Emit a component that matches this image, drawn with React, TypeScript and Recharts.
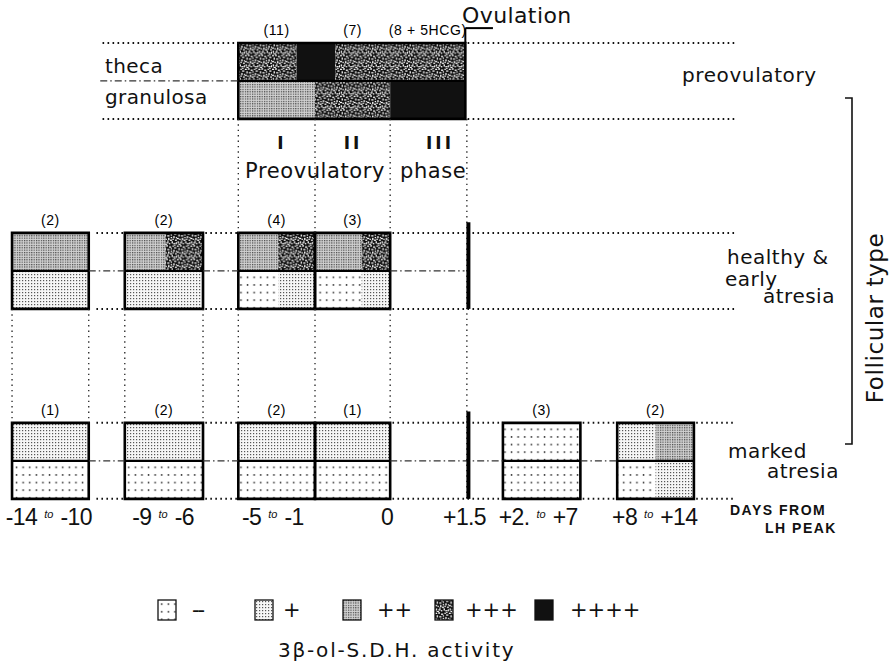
import React from 'react';
import { ComposedChart, XAxis, YAxis, ReferenceArea, ReferenceLine } from 'recharts';

// activity scale of 3β-ol-S.D.H., index = level
const LEVELS = ['--', '+', '++', '+++', '++++'];

// follicle columns on the x axis (column units)
const columnFrom = [0, 1.47, 2.95, 3.95, 4.93, 6.4, 7.89];
const columnTo = [1, 2.49, 3.95, 4.93, 5.91, 7.41, 8.89];

// top of each follicular type row: preovulatory, healthy & early atresia, marked atresia
const rowTop = [0, 5, 10];

// a part is [activity level, share of the column width]
type Part = [number, number];
type Entry = { col: number; n: string; theca: Part[]; granulosa: Part[] };

const preovulatory: Entry[] = [
  { col: 2, n: '(11)', theca: [[3, 0.76], [4, 0.24]], granulosa: [[2, 1]] },
  { col: 3, n: '(7)', theca: [[4, 0.27], [3, 0.73]], granulosa: [[3, 1]] },
  { col: 4, n: '(8 + 5HCG)', theca: [[3, 1]], granulosa: [[4, 1]] },
];

const healthy: Entry[] = [
  { col: 0, n: '(2)', theca: [[2, 1]], granulosa: [[1, 1]] },
  { col: 1, n: '(2)', theca: [[2, 0.52], [3, 0.48]], granulosa: [[1, 1]] },
  { col: 2, n: '(4)', theca: [[2, 0.52], [3, 0.48]], granulosa: [[0, 0.52], [1, 0.48]] },
  { col: 3, n: '(3)', theca: [[2, 0.62], [3, 0.38]], granulosa: [[0, 0.62], [1, 0.38]] },
];

const marked: Entry[] = [
  { col: 0, n: '(1)', theca: [[1, 1]], granulosa: [[0, 1]] },
  { col: 1, n: '(2)', theca: [[1, 1]], granulosa: [[0, 1]] },
  { col: 2, n: '(2)', theca: [[1, 1]], granulosa: [[0, 1]] },
  { col: 3, n: '(1)', theca: [[1, 1]], granulosa: [[0, 1]] },
  { col: 5, n: '(3)', theca: [[0, 1]], granulosa: [[0, 1]] },
  { col: 6, n: '(2)', theca: [[1, 0.5], [2, 0.5]], granulosa: [[0, 0.5], [1, 0.5]] },
];

// days from LH peak
const dayTickAt = [0.48, 1.97, 3.4, 4.89, 5.9, 6.86, 8.38];
const dayFrom = ['-14', '-9', '-5', '0', '+1.5', '+2.', '+8'];
const dayTo = ['-10', '-6', '-1', '', '', '+7', '+14'];

const OVULATION = 5.93;
const LINE_END = 9.43;

const FONT = "'DejaVu Sans', Verdana, sans-serif";
const NUMFONT = "'Liberation Sans', Arial, sans-serif";
const NARROW = "'Liberation Sans Narrow', 'Liberation Sans', Arial, sans-serif";

const SPECKS = [
  [0, 1, 2, 1], [4, 0, 1, 2], [7, 2, 2, 1], [11, 1, 1, 1], [13, 3, 2, 1], [2, 4, 1, 2],
  [5, 5, 2, 1], [9, 4, 1, 1], [12, 6, 1, 2], [15, 7, 1, 1], [0, 8, 2, 1], [3, 9, 1, 1],
  [6, 8, 1, 2], [8, 10, 2, 1], [11, 9, 1, 1], [14, 10, 2, 1], [1, 12, 1, 2], [4, 13, 2, 1],
  [7, 14, 1, 1], [10, 12, 1, 2], [12, 14, 2, 1], [15, 13, 1, 2], [2, 15, 2, 1], [9, 7, 1, 1],
  [5, 11, 1, 1], [13, 0, 1, 1],
];

const fillFor = (lvl: number) => (lvl === 4 ? '#111' : `url(#lvl${lvl})`);

const rows: Entry[][] = [preovulatory, healthy, marked];

function gaps(boxes: number[][], start: number, end: number) {
  const out: number[][] = [];
  let cur = start;
  [...boxes].sort((a, b) => a[0] - b[0]).forEach(([a, b]) => {
    if (a > cur + 0.01) out.push([cur, Math.min(a, end)]);
    cur = Math.max(cur, b);
  });
  if (end > cur + 0.01) out.push([cur, end]);
  return out;
}

function DayTick(props: any) {
  const { x, y, payload } = props;
  const i = dayTickAt.findIndex((v) => Math.abs(v - payload.value) < 1e-6);
  if (i < 0) return null;
  return (
    <text x={x} y={y + 17} textAnchor="middle" fontFamily={NUMFONT} fontSize={23} fill="#111" letterSpacing={-0.6}>
      <tspan>{dayFrom[i]}</tspan>
      {dayTo[i] && (
        <>
          <tspan dx={7} dy={-7} fontSize={11} fontStyle="italic" letterSpacing={0}>to</tspan>
          <tspan dx={7} dy={7}>{dayTo[i]}</tspan>
        </>
      )}
    </text>
  );
}

const dotted = { stroke: '#111', strokeWidth: 2, strokeDasharray: '1.6 3.4' };
const vdotted = { stroke: '#222', strokeWidth: 1.3, strokeDasharray: '1.4 4' };
const dashdot = { stroke: '#333', strokeWidth: 1.2, strokeDasharray: '7 3 1.5 3' };

export default function App() {
  const cells: React.ReactNode[] = [];
  const outlines: React.ReactNode[] = [];
  const lines: React.ReactNode[] = [];

  rows.forEach((entries, r) => {
    const top = rowTop[r];
    entries.forEach((e) => {
      const x1 = columnFrom[e.col];
      const w = columnTo[e.col] - x1;
      [e.theca, e.granulosa].forEach((parts, layer) => {
        let acc = x1;
        parts.forEach(([lvl, share], k) => {
          const a = acc;
          acc += share * w;
          cells.push(
            <ReferenceArea key={`c${r}-${e.col}-${layer}-${k}`} x1={a} x2={acc} y1={top + layer} y2={top + layer + 1}
              fill={fillFor(lvl)} fillOpacity={1} stroke="none" ifOverflow="visible" />
          );
        });
      });
      // count of follicles
      cells.push(
        <ReferenceArea key={`n${r}-${e.col}`} x1={x1} x2={columnTo[e.col]} y1={top} y2={top + 1}
          fill="none" stroke="none" ifOverflow="visible"
          label={{ value: e.n, position: 'top', offset: 8, fontSize: 14, fill: '#000', fontFamily: NARROW, letterSpacing: 0.6 }} />
      );
    });

    // boxes: preovulatory is one block, others one box per column
    const boxes = r === 0
      ? [[columnFrom[entries[0].col], columnTo[entries[entries.length - 1].col]]]
      : entries.map((e) => [columnFrom[e.col], columnTo[e.col]]);
    boxes.forEach(([a, b], k) => {
      outlines.push(
        <ReferenceArea key={`o${r}-${k}`} x1={a} x2={b} y1={top} y2={top + 2} fill="none"
          stroke="#000" strokeWidth={2.6} ifOverflow="visible" />,
        <ReferenceLine key={`m${r}-${k}`} segment={[{ x: a, y: top + 1 }, { x: b, y: top + 1 }]}
          stroke="#000" strokeWidth={2.2} ifOverflow="visible" />
      );
    });

    const dotStart = r === 0 ? 1.15 : columnTo[0] + 0.07;
    const dashStart = r === 0 ? 1.15 : columnTo[0];
    const dashEnd = r === 0 ? columnFrom[2] : r === 1 ? OVULATION - 0.03 : columnFrom[6];
    gaps(boxes, dotStart, LINE_END).forEach(([a, b], k) => {
      [top, top + 2].forEach((yy) => {
        lines.push(
          <ReferenceLine key={`d${r}-${k}-${yy}`} segment={[{ x: a + 0.03, y: yy }, { x: b, y: yy }]}
            {...dotted} ifOverflow="visible" />
        );
      });
    });
    gaps(boxes, dashStart, dashEnd).forEach(([a, b], k) => {
      lines.push(
        <ReferenceLine key={`dd${r}-${k}`} segment={[{ x: a, y: top + 1 }, { x: b, y: top + 1 }]}
          {...dashdot} ifOverflow="visible" />
      );
    });
  });

  // vertical guides between rows
  const phaseEdges = [columnFrom[2], columnFrom[3], columnFrom[4]];
  phaseEdges.forEach((x, k) => {
    lines.push(<ReferenceLine key={`vp${k}`} segment={[{ x, y: 2 }, { x, y: 5 }]} {...vdotted} ifOverflow="visible" />);
  });
  const lowEdges = [columnFrom[0], columnTo[0], columnFrom[1], columnTo[1], columnFrom[2], columnFrom[3], columnTo[3]];
  lowEdges.forEach((x, k) => {
    lines.push(<ReferenceLine key={`vl${k}`} segment={[{ x, y: 7 }, { x, y: 10 }]} {...vdotted} ifOverflow="visible" />);
  });
  lines.push(
    <ReferenceLine key="vov" segment={[{ x: OVULATION, y: 2 }, { x: OVULATION, y: 12 }]} {...vdotted} ifOverflow="visible" />
  );

  return (
    <div style={{ position: 'absolute', left: 0, top: 0, width: 896, height: 664, background: '#fff', fontFamily: FONT }}>
      <ComposedChart width={896} height={545} data={[]} margin={{ top: 0, right: 0, bottom: 0, left: 0 }}>
        <defs>
          <pattern id="lvl0" width="6.6" height="7.6" patternUnits="userSpaceOnUse">
            <rect width="6.6" height="7.6" fill="#fff" />
            <rect x="2.6" y="3" width="1.5" height="1.5" fill="#222" />
          </pattern>
          <pattern id="lvl1" width="3" height="3" patternUnits="userSpaceOnUse">
            <rect width="3" height="3" fill="#f6f6f6" />
            <rect x="1" y="1" width="1.2" height="1.2" fill="#555" />
          </pattern>
          <pattern id="lvl2" width="2.4" height="2.4" patternUnits="userSpaceOnUse">
            <rect width="2.4" height="2.4" fill="#d2d2d2" />
            <rect width="1.2" height="1.2" fill="#444" />
          </pattern>
          <pattern id="lvl3" width="16" height="16" patternUnits="userSpaceOnUse" patternTransform="scale(0.85)">
            <rect width="16" height="16" fill="#0d0d0d" />
            {SPECKS.map(([x, y, w, h], k) => (
              <rect key={k} x={x - 0.2} y={y - 0.2} width={w + 0.6} height={h + 0.5} fill="#fff" />
            ))}
          </pattern>
        </defs>
        <XAxis type="number" dataKey="x" domain={[-0.157, 11.525]} allowDataOverflow ticks={dayTickAt} interval={0}
          axisLine={false} tickLine={false} height={45} tick={<DayTick />} />
        <YAxis type="number" domain={[-1.13, 12.03]} allowDataOverflow reversed hide />
        {lines}
        {cells}
        {outlines}
        {/* ovulation marks */}
        <ReferenceLine segment={[{ x: OVULATION + 0.02, y: 4.72 }, { x: OVULATION + 0.02, y: 7 }]} stroke="#000" strokeWidth={4} ifOverflow="visible" />
        <ReferenceLine segment={[{ x: OVULATION + 0.02, y: 9.7 }, { x: OVULATION + 0.02, y: 12 }]} stroke="#000" strokeWidth={4} ifOverflow="visible" />
        <ReferenceLine segment={[{ x: columnTo[4], y: 0 }, { x: columnTo[4], y: -0.39 }]} stroke="#000" strokeWidth={2} ifOverflow="visible" />
        <ReferenceLine segment={[{ x: columnTo[4], y: -0.39 }, { x: 6.27, y: -0.39 }]} stroke="#000" strokeWidth={2} ifOverflow="visible" />
      </ComposedChart>

      <svg width={896} height={664} style={{ position: 'absolute', left: 0, top: 0, pointerEvents: 'none' }}>
        <g fontFamily={FONT} fill="#111">
          <text x={462} y={23} fontSize={22} letterSpacing={0.4}>Ovulation</text>
          <text x={105} y={73} fontSize={20} letterSpacing={0.4}>theca</text>
          <text x={105} y={104} fontSize={20} letterSpacing={0.4}>granulosa</text>
          <g fontWeight="bold" fontSize={17} letterSpacing={3} textAnchor="middle">
            <text x={282} y={149}>I</text>
            <text x={353} y={149}>II</text>
            <text x={440} y={149}>III</text>
          </g>
          <text x={245} y={178} fontSize={21} letterSpacing={0.6}>Preovulatory</text>
          <text x={400} y={178} fontSize={21} letterSpacing={0.6}>phase</text>
          <text x={682} y={82} fontSize={20} letterSpacing={0.6}>preovulatory</text>
          <text x={727} y={264} fontSize={20} letterSpacing={0.5}>healthy  &amp;</text>
          <text x={725} y={286} fontSize={20} letterSpacing={0.5}>early</text>
          <text x={763} y={303} fontSize={20} letterSpacing={0.5}>atresia</text>
          <text x={728} y={458} fontSize={20} letterSpacing={0.5}>marked</text>
          <text x={767} y={478} fontSize={20} letterSpacing={0.5}>atresia</text>
          <g fontFamily={NARROW} fontWeight="bold" fontSize={14} letterSpacing={1.5}>
            <text x={730} y={515}>DAYS FROM</text>
            <text x={765} y={533}>LH PEAK</text>
          </g>
          <text transform="translate(883,318) rotate(-90)" textAnchor="middle" fontSize={23} letterSpacing={0.6}>Follicular  type</text>
          <path d="M845 98 H852 V444 H845" fill="none" stroke="#111" strokeWidth={1.6} />

          {LEVELS.map((lvl, k) => {
            const sx = [158, 255, 343, 435, 535][k];
            const tx = [192, 283, 377, 465, 570][k];
            return (
              <g key={lvl}>
                <rect x={sx} y={600} width={18} height={20} fill={fillFor(k)} stroke="#111" strokeWidth={1.3} />
                <text x={tx} y={617} fontSize={21} letterSpacing={k === 0 ? -2 : 0}>{lvl}</text>
              </g>
            );
          })}
          <text x={278} y={657} fontSize={20} letterSpacing={1.8}>3β-ol-S.D.H. activity</text>
        </g>
      </svg>
    </div>
  );
}
